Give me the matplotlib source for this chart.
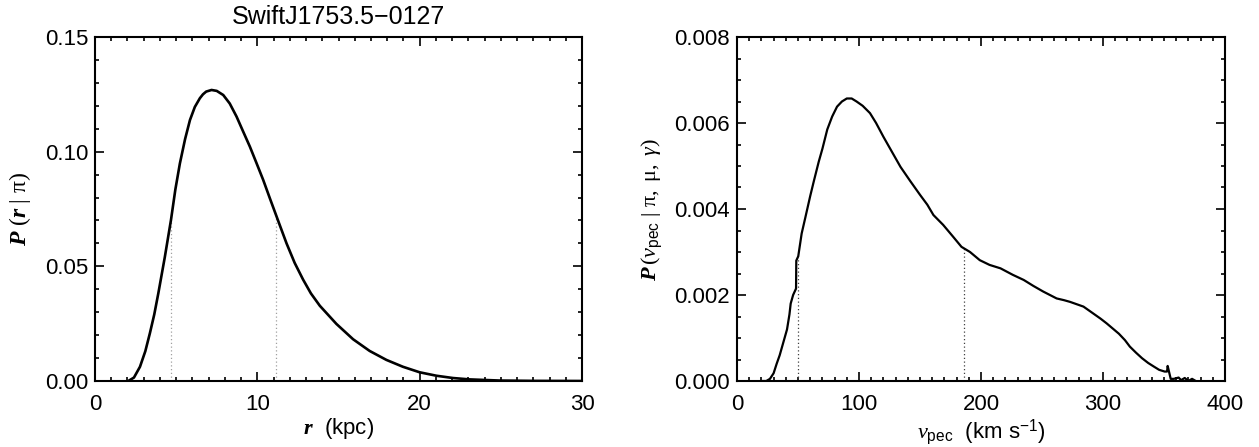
import numpy as np
import matplotlib
matplotlib.use('Agg')
import matplotlib.pyplot as plt
from matplotlib.ticker import MultipleLocator, FormatStrFormatter

plt.rcParams['font.family'] = ['Liberation Sans', 'DejaVu Sans']
plt.rcParams['mathtext.fontset'] = 'custom'
plt.rcParams['mathtext.rm'] = 'Liberation Serif'
plt.rcParams['mathtext.it'] = 'Liberation Serif:italic'
plt.rcParams['mathtext.bf'] = 'Liberation Serif:italic:bold'
plt.rcParams['mathtext.sf'] = 'Liberation Sans'

# Distance posterior P(r | parallax)
r_kpc = [2.05, 2.4, 2.77, 3.1, 3.38, 3.65, 3.9, 4.3, 4.68, 4.95, 5.23, 5.55, 5.85, 6.15,
         6.46, 6.65, 6.85, 7.18, 7.5, 7.9, 8.3, 8.72, 9.1, 9.54, 9.95, 10.36, 10.77, 11.38,
         11.8, 12.3, 12.82, 13.3, 13.85, 14.87, 15.9, 16.92, 17.95, 18.97, 20.0, 21.03,
         22.05, 23.08, 24.92, 27.0, 30.0]
p_r = [0.0, 0.0015, 0.0062, 0.013, 0.0208, 0.029, 0.0382, 0.054, 0.0702, 0.0835, 0.0949,
       0.1055, 0.1138, 0.1195, 0.1233, 0.1250, 0.1262, 0.1269, 0.1265, 0.1247, 0.121,
       0.1153, 0.1092, 0.1022, 0.095, 0.0877, 0.0797, 0.068, 0.060, 0.0515, 0.0442, 0.0382,
       0.0328, 0.0249, 0.0182, 0.0131, 0.0092, 0.0062, 0.0038, 0.0023, 0.0013, 0.0007,
       0.0002, 0.00005, 0.0]
r_bounds = [4.68, 11.12]
p_r_bounds = [0.0702, 0.072]

# Peculiar velocity distribution P(v_pec | parallax, proper motion, gamma)
v_pec = [20, 24, 27, 30, 32.5, 35, 37, 39, 41, 43, 44, 46, 48.4, 48.6, 50.2, 53, 56, 60,
         63, 67, 70, 74, 78, 82, 86, 90, 94, 98, 103, 109, 114, 120, 127, 134, 142, 150,
         156, 161, 169, 177, 184, 191, 199, 207, 216, 226, 235, 243, 251, 262, 268, 273,
         279, 284, 292, 298, 303, 308, 313, 318, 322, 327, 332, 337, 342, 346, 350.5,
         352.5, 353, 355.5, 358, 362, 364, 367, 370, 373, 376]
p_v = [0, 0, 0.05, 0.18, 0.4, 0.6, 0.8, 1.0, 1.2, 1.55, 1.8, 2.0, 2.15, 2.8, 2.9, 3.43,
       3.8, 4.3, 4.65, 5.1, 5.4, 5.85, 6.15, 6.38, 6.5, 6.57, 6.57, 6.5, 6.4, 6.23, 6.0,
       5.68, 5.33, 4.98, 4.65, 4.33, 4.1, 3.86, 3.63, 3.36, 3.12, 3.0, 2.81, 2.7, 2.62,
       2.47, 2.35, 2.21, 2.08, 1.92, 1.88, 1.84, 1.78, 1.73, 1.57, 1.45, 1.34, 1.22, 1.1,
       0.95, 0.8, 0.66, 0.53, 0.42, 0.33, 0.26, 0.22, 0.22, 0.35, 0.05, 0.05, 0.08, 0.02,
       0.07, 0.0, 0.05, 0.0]
p_v = np.array(p_v) * 1e-3
v_bounds = [50.2, 186.1]
p_v_bounds = [0.00285, 0.00309]


def style_axes(ax, xmajor, xminor, ymajor, yminor, yfmt):
    ax.xaxis.set_major_locator(MultipleLocator(xmajor))
    ax.xaxis.set_minor_locator(MultipleLocator(xminor))
    ax.yaxis.set_major_locator(MultipleLocator(ymajor))
    ax.yaxis.set_minor_locator(MultipleLocator(yminor))
    ax.yaxis.set_major_formatter(FormatStrFormatter(yfmt))
    ax.tick_params(which='both', direction='in', top=True, right=True, width=1.2,
                   labelsize=16, colors='black')
    ax.tick_params(which='major', length=6.5)
    ax.tick_params(which='minor', length=3.2)
    ax.tick_params(axis='x', pad=9)
    ax.tick_params(axis='y', pad=5)
    for s in ax.spines.values():
        s.set_linewidth(1.5)


fig = plt.figure(figsize=(12.59, 4.47), dpi=100)
ax1 = fig.add_axes([95 / 1259, 66 / 447, 487 / 1259, 344 / 447])
ax2 = fig.add_axes([737 / 1259, 66 / 447, 488 / 1259, 344 / 447])

# left panel: distance
ax1.vlines(r_bounds, 0, p_r_bounds, colors='#a0a0a0', linestyles=(0, (1, 2)), lw=0.9)
ax1.plot(r_kpc, p_r, color='black', lw=1.9, solid_joinstyle='round')
ax1.set_xlim(0, 30)
ax1.set_ylim(0, 0.15)
style_axes(ax1, 10, 1, 0.05, 0.01, '%.2f')
ax1.set_title('SwiftJ1753.5\u22120127', fontsize=18, pad=9)
ax1.set_xlabel(r'$\mathbf{r}$  (kpc)', fontsize=16, labelpad=1)
ax1.set_ylabel(r'$\mathbf{P}\ (\mathbf{r}\ |\ \mathrm{\pi})$', fontsize=17)
ax1.yaxis.set_label_coords(-0.128, 0.5)

# right panel: peculiar velocity
ax2.vlines(v_bounds, 0, p_v_bounds, colors='#404040', linestyles=(0, (1, 2)), lw=0.9)
ax2.plot(v_pec, p_v, color='black', lw=1.6, solid_joinstyle='round')
ax2.set_xlim(0, 400)
ax2.set_ylim(0, 0.008)
style_axes(ax2, 100, 10, 0.002, 0.0005, '%.3f')
ax2.set_xlabel(r'$v_{\mathsf{pec}}$  (km s$^{\mathsf{-1}}$)', fontsize=16, labelpad=2)
ax2.set_ylabel(r'$\mathbf{P}\,(v_{\mathsf{pec}}\ |\ \mathrm{\pi},\ \mathrm{\mu},\ \gamma)$',
               fontsize=16)
ax2.yaxis.set_label_coords(-0.150, 0.5)

# keep the end labels inside the frame
for ax in (ax1, ax2):
    fig.canvas.draw()
    labels = ax.get_yticklabels()
    labels[0].set_va('bottom')
    labels[-1].set_va('top')

fig.savefig('out.png', dpi=100)
